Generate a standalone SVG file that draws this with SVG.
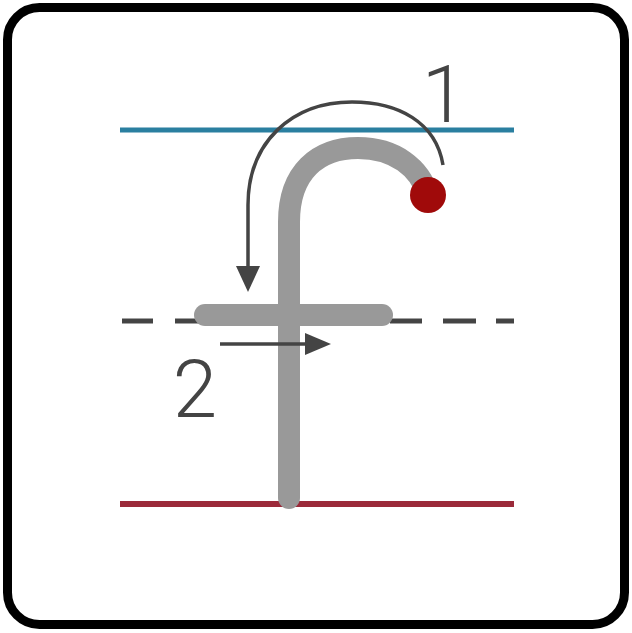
<svg xmlns="http://www.w3.org/2000/svg" width="632" height="633" viewBox="0 0 632 633">
<style>
.guide{fill:none;stroke-linecap:butt}
.stroke{fill:none;stroke:#999;stroke-width:22;stroke-linecap:round;stroke-linejoin:round}
.arr{fill:none;stroke:#444;stroke-width:3.5}
.head{fill:#444}
.num{font-family:Roboto,"Liberation Sans",Arial,sans-serif;font-weight:300;font-size:80px;fill:#444;text-anchor:middle}
</style>
<rect x="0" y="0" width="632" height="633" fill="#fff"/>
<rect id="frame" x="7.5" y="7.5" width="617" height="617" rx="32" ry="32" fill="#fff" stroke="#000" stroke-width="9"/>
<g id="guides">
<line class="guide" x1="120" y1="130" x2="514" y2="130" stroke="#2a7fa0" stroke-width="5"/>
<line class="guide" x1="120" y1="504" x2="514" y2="504" stroke="#9b2a3a" stroke-width="6"/>
<g stroke="#444" stroke-width="5">
<line x1="122" y1="321" x2="153" y2="321"/>
<line x1="175" y1="321" x2="205" y2="321"/>
<line x1="390" y1="321" x2="422" y2="321"/>
<line x1="443" y1="321" x2="476" y2="321"/>
<line x1="496" y1="321" x2="514" y2="321"/>
</g>
</g>
<g id="letter-f">
<path class="stroke" d="M289,498 V222 C289,172 318,148 358,148 C395,148 420,168 428,195"/>
<line class="stroke" x1="205" y1="315" x2="382" y2="315" stroke-width="20"/>
<circle cx="428" cy="195" r="18" fill="#a00a0a"/>
</g>
<g id="connectors">
<path class="arr" d="M443,165 C436,122 398,102 352,102 C292,102 248,142 248,205 V272"/>
<polygon class="head" points="236,266 260,266 248,292"/>
<line class="arr" x1="220" y1="344" x2="310" y2="344" stroke-width="3"/>
<polygon class="head" points="305,333 331,344 305,355"/>
</g>
<g id="labels">
<text class="num" x="444" y="122">1</text>
<text class="num" x="195" y="417">2</text>
</g>
</svg>
